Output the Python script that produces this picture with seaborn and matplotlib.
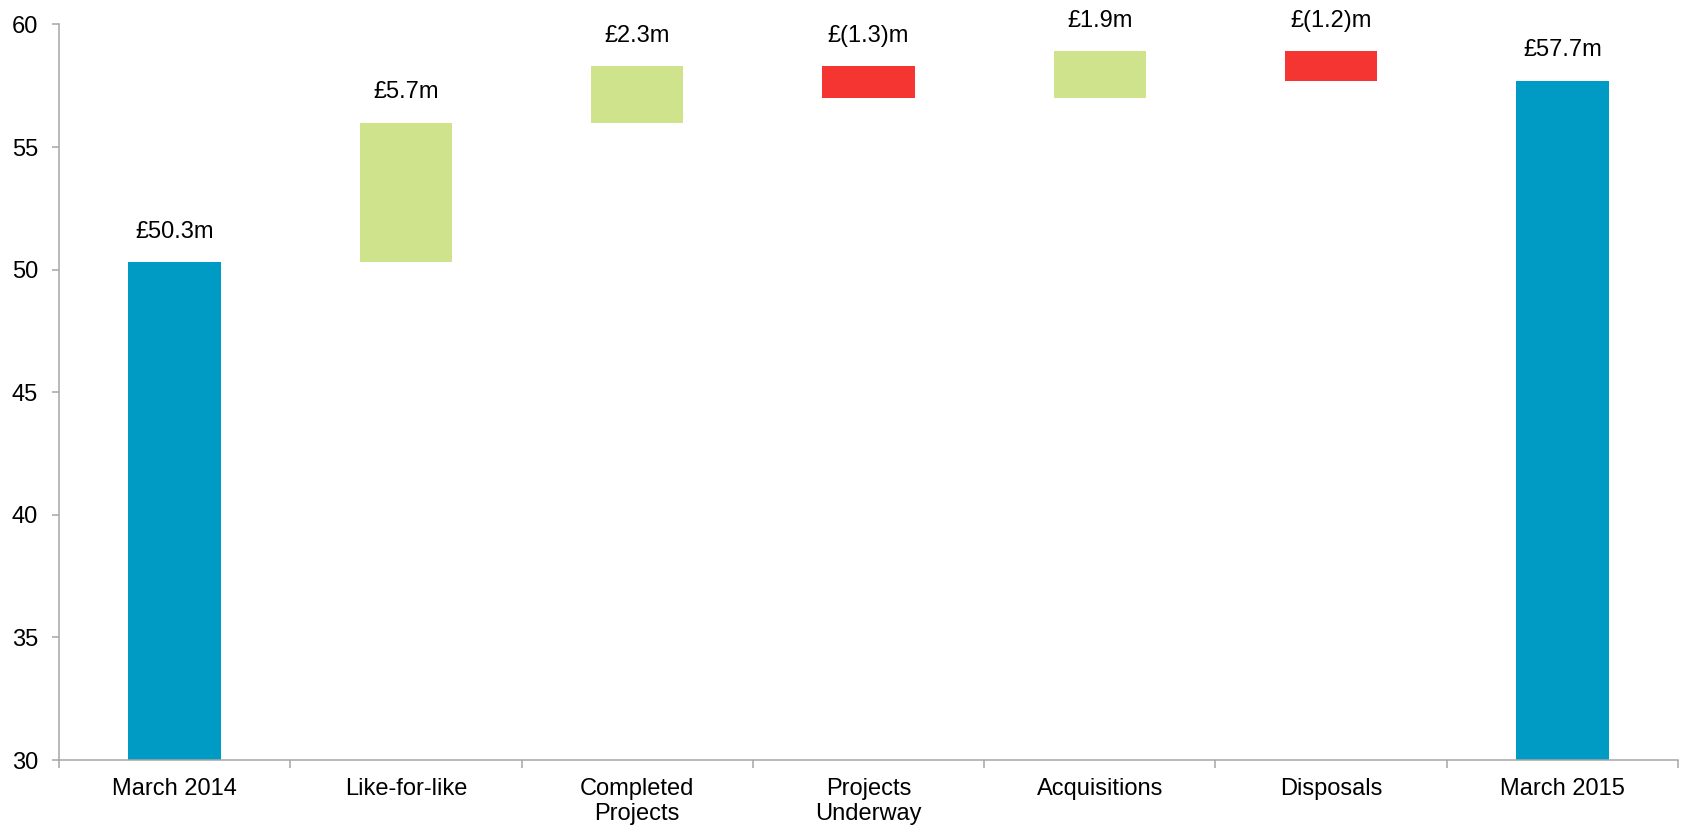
import numpy as np
import pandas as pd
import matplotlib
matplotlib.use("Agg")
import matplotlib.pyplot as plt
import seaborn as sns

# Rent roll bridge, £m
categories = ["March 2014", "Like-for-like", "Completed\nProjects",
              "Projects\nUnderway", "Acquisitions", "Disposals", "March 2015"]
opening = 50.3
movements = [5.7, 2.3, -1.3, 1.9, -1.2]
closing = 57.7

BLUE = "#009BC4"
GREEN = "#CFE38C"
RED = "#F43531"
AXIS_GREY = "#A6A6A6"
FONT_SIZE = 17

# Build the floating-bar geometry from the movements
running = opening + np.concatenate([[0.0], np.cumsum(movements)])
bottoms = [0.0] + [min(running[i], running[i + 1]) for i in range(len(movements))] + [0.0]
heights = [opening] + [abs(m) for m in movements] + [closing]
tops = [b + h for b, h in zip(bottoms, heights)]
values = [opening] + movements + [closing]
colors = [BLUE] + [GREEN if m >= 0 else RED for m in movements] + [BLUE]


def fmt(v):
    return f"£{v:.1f}m" if v >= 0 else f"£({abs(v):.1f})m"


df = pd.DataFrame({"category": categories, "height": heights, "bottom": bottoms})

sns.set_theme(style="white")
plt.rcParams["font.family"] = ["Liberation Sans", "DejaVu Sans"]

fig = plt.figure(figsize=(16.83, 8.27), dpi=100)
ax = fig.add_axes([0.0351, 0.081, 0.9619, 0.8894])

sns.barplot(data=df, x="category", y="height", order=categories,
            bottom=df["bottom"].to_numpy(), width=0.4, errorbar=None,
            color=BLUE, saturation=1, linewidth=0, ax=ax)
for patch, c in zip(ax.patches, colors):
    patch.set_facecolor(c)
    patch.set_edgecolor("none")

for i, (t, v) in enumerate(zip(tops, values)):
    ax.annotate(fmt(v), xy=(i, t), xytext=(0, 22), textcoords="offset points",
                ha="center", va="center", fontsize=FONT_SIZE, color="black")

ax.set_ylim(30, 60)
ax.set_xlim(-0.5, len(categories) - 0.5)
ax.set_yticks(np.arange(30, 61, 5))
ax.set_xlabel("")
ax.set_ylabel("")

for side in ["top", "right"]:
    ax.spines[side].set_visible(False)
for side in ["left", "bottom"]:
    ax.spines[side].set_color(AXIS_GREY)
    ax.spines[side].set_linewidth(1.1)

ax.tick_params(axis="y", which="major", direction="out", length=5, width=1.1,
               color=AXIS_GREY, labelsize=FONT_SIZE, labelcolor="black",
               pad=10, left=True)
ax.tick_params(axis="x", which="major", length=0, labelsize=FONT_SIZE,
               labelcolor="black", pad=13)
ax.set_xticks(np.arange(-0.5, len(categories), 1.0), minor=True)
ax.tick_params(axis="x", which="minor", direction="out", length=5.5, width=1.1,
               color=AXIS_GREY, bottom=True)
for lbl in ax.get_xticklabels():
    lbl.set_verticalalignment("top")
    lbl.set_linespacing(1.15)

fig.savefig("out.png", dpi=100, facecolor="white")
